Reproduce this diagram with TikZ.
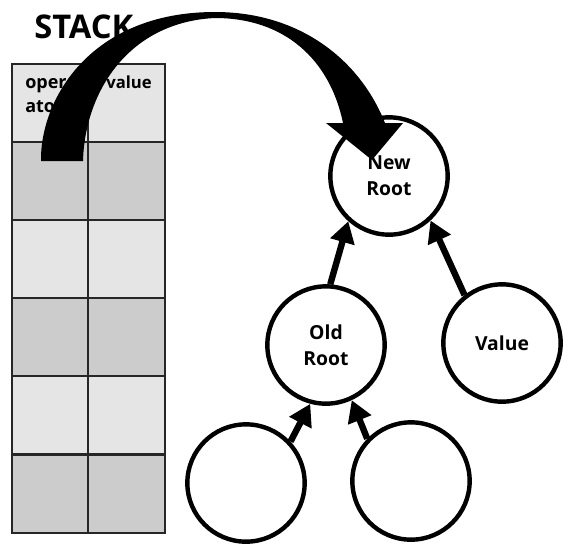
\documentclass[tikz,border=0pt]{standalone}
\usepackage{fontspec}
\setmainfont{Open Sans}
\usetikzlibrary{arrows.meta}

\begin{document}
\begin{tikzpicture}[
    x=0.75pt, y=-0.75pt,
    tree/.style = { circle, draw, line width=3.3pt, minimum size=88pt, inner sep=0pt,
                    align=center, font=\bfseries\fontsize{14.5}{19.5}\selectfont },
    link/.style = { line width=4.8pt, -{Triangle[width=18pt,length=16pt]} },
    light/.style = { fill=black!10, draw=black!85, line width=1.5pt },
    dark/.style = { fill=black!20, draw=black!85, line width=1.5pt },
    celltext/.style = { inner sep=0pt, anchor=base west, align=left,
                        font=\bfseries\fontsize{13.5}{18}\selectfont },
    ]
    \useasboundingbox (0,0) rectangle (563,544);

    % stack
    \foreach \top/\shade in {64/light, 142/dark, 220/light, 298/dark, 376/light, 455/dark} {
        \draw[\shade] (12,\top) rectangle (88,\top+78);
        \draw[\shade] (88,\top) rectangle (165,\top+78);
    }
    \node[inner sep=0pt, anchor=base west, font=\bfseries\fontsize{24.5}{28}\selectfont]
        (title) at (34,38) {STACK};
    \node[celltext] (optext) at (25,112) {operator\\atom};
    \node[celltext, font=\bfseries\fontsize{12.5}{18}\selectfont] (valtext) at (106,88) {value};

    % tree
    \node[tree] (newroot) at (389,176) {New\\Root};
    \node[tree] (oldroot) at (326,345) {Old\\Root};
    \node[tree] (value) at (502,343) {Value};
    \node[tree] (leftleaf) at (246,483) {};
    \node[tree] (rightleaf) at (411,481) {};

    \draw[link] (oldroot.86) -- (newroot.228);
    \draw[link] (value.128) -- (newroot.313);
    \draw[link] (leftleaf.43) -- (oldroot.255);
    \draw[link] (rightleaf.136) -- (oldroot.295);

    % push arrow
    \fill (41,161) .. controls (40,100) and (90,12) .. (215,12)
        .. controls (300,12) and (360,60) .. (385,123)
        -- (403,123) -- (372,160) -- (326,123) -- (343,123)
        .. controls (330,60) and (285,18) .. (215,18)
        .. controls (130,22) and (85,90) .. (83,161) -- cycle;

\end{tikzpicture}
\end{document}
